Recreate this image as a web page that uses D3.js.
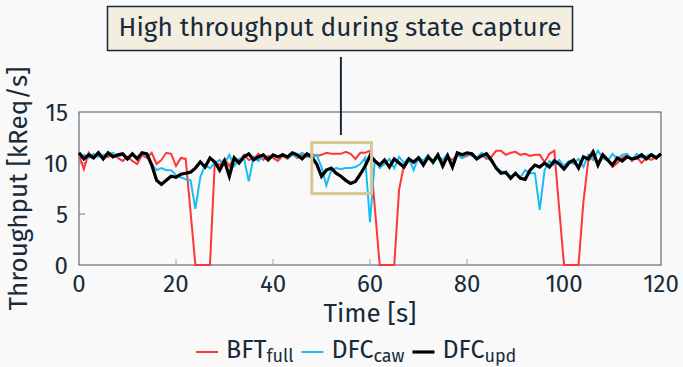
<!DOCTYPE html>
<html>
<head>
<meta charset="utf-8">
<script src="https://cdn.jsdelivr.net/npm/d3@7"></script>
<style>
  html, body { margin: 0; padding: 0; background: #f9f9f9; }
  svg { display: block; font-family: 'Fira Sans', 'Noto Sans', sans-serif; }
</style>
</head>
<body>
<svg id="chart"></svg>
<script>
// time in seconds, one sample per second
const times = d3.range(0, 121)

const bftFull = [
  10.8, 9.4, 11.0, 10.5, 10.9, 10.6, 10.6, 10.9, 10.5, 10.2,
  10.6, 10.2, 9.9, 10.8, 10.5, 11.0, 9.9, 10.3, 11.0, 10.9,
  9.7, 10.5, 10.4, 5.2, 0, 0, 0, 0, 10.1, 9.8,
  10.4, 9.7, 10.6, 10.1, 10.8, 10.3, 10.4, 10.9, 10.3, 10.7,
  10.5, 10.2, 10.7, 10.4, 10.9, 10.5, 10.8, 10.6, 10.9, 10.7,
  10.8, 11.0, 10.9, 10.9, 10.9, 11.1, 10.9, 10.4, 11.0, 11.0,
  11.2, 5.6, 0, 0, 0, 0, 7.4, 9.8, 10.2, 10.0,
  10.4, 10.1, 10.6, 10.2, 10.5, 10.0, 10.6, 10.3, 10.8, 10.5,
  10.7, 10.9, 10.5, 10.8, 10.4, 10.6, 11.2, 11.2, 10.8, 11.0,
  11.1, 10.8, 10.9, 10.7, 10.8, 10.8, 10.1, 10.9, 11.2, 5.6,
  0, 0, 0, 0, 6.2, 10.2, 10.7, 10.0, 10.6, 10.3,
  9.6, 10.0, 10.5, 10.8, 10.2, 10.6, 10.0, 10.5, 10.3, 10.6,
  10.8
]

const dfcCaw = [
  10.6, 10.8, 10.5, 10.9, 10.6, 10.8, 10.9, 11.0, 10.6, 10.8,
  10.5, 10.8, 10.6, 10.9, 10.7, 9.9, 9.3, 9.5, 9.3, 9.3,
  8.8, 8.6, 8.4, 8.3, 5.5, 8.6, 9.8, 9.5, 10.0, 10.3,
  9.9, 10.8, 9.7, 10.4, 10.5, 8.2, 10.6, 10.2, 10.8, 10.4,
  10.7, 10.5, 10.9, 10.5, 10.8, 10.6, 11.0, 10.7, 10.5, 10.8,
  9.6, 7.8, 9.3, 9.5, 9.4, 9.5, 9.5, 9.6, 9.9, 10.5,
  4.2, 10.3, 9.5, 9.9, 10.4, 9.5, 10.6, 10.0, 10.5, 9.3,
  10.6, 10.2, 10.8, 9.9, 10.7, 10.3, 10.9, 9.5, 10.8, 10.5,
  10.9, 10.7, 10.5, 11.0, 10.6, 10.2, 9.6, 9.2, 8.9, 8.7,
  8.9, 8.6, 9.3, 9.0, 9.0, 5.4, 9.3, 10.2, 9.8, 10.3,
  9.7, 10.2, 9.9, 10.4, 9.6, 10.8, 10.3, 11.2, 10.5, 10.2,
  10.9, 10.4, 10.8, 10.9, 10.3, 10.9, 10.5, 10.7, 10.9, 10.6,
  10.8
]

const dfcUpd = [
  11.0, 10.4, 10.8, 10.5, 11.0, 10.4, 11.0, 10.6, 10.8, 10.9,
  10.4, 10.9, 10.4, 11.0, 10.9, 9.8, 8.3, 7.9, 8.3, 8.7,
  8.6, 8.9, 9.0, 9.1, 9.5, 10.1, 9.6, 10.5, 10.1, 9.3,
  10.2, 8.7, 10.5, 10.0, 10.6, 10.9, 10.3, 10.6, 10.8, 10.3,
  10.8, 10.6, 10.8, 10.6, 11.0, 10.8, 10.4, 10.9, 10.6, 9.9,
  8.7, 9.3, 9.5, 9.0, 8.7, 8.3, 8.0, 8.2, 8.9, 9.7,
  10.7, 10.2, 9.8, 10.3, 9.6, 10.4, 10.0, 9.6, 10.4, 10.1,
  10.5, 9.8, 10.6, 10.1, 10.8, 9.7, 10.7, 9.6, 11.0, 10.8,
  11.0, 10.9, 10.4, 10.7, 10.9, 10.3, 9.5, 9.0, 9.1, 8.5,
  9.0, 8.5, 8.4, 9.3, 9.8, 9.6, 10.0, 9.6, 10.2, 9.9,
  9.4, 10.0, 10.3, 9.5, 10.6, 10.4, 11.1, 9.8, 10.8, 10.3,
  9.8, 10.5, 10.2, 10.6, 10.4, 10.5, 10.8, 10.4, 10.8, 10.5,
  10.9
]

const xTicks = [0, 20, 40, 60, 80, 100, 120]
const yTicks = [0, 5, 10, 15]

const series = [
  { name: 'BFT', sub: 'full', values: bftFull, color: '#ff3636', width: 2 },
  { name: 'DFC', sub: 'caw', values: dfcCaw, color: '#19bdf5', width: 2 },
  { name: 'DFC', sub: 'upd', values: dfcUpd, color: '#000000', width: 3.2 },
]

// highlighted window (time range, value range)
const highlight = { t0: 48, t1: 60.3, v0: 7, v1: 12 }
const calloutText = 'High throughput during state capture'
const calloutT = 54

const W = 683
const H = 367
const margin = { top: 112, right: 22, bottom: 102, left: 79 }
const textColor = '#172b3a'

const svg = d3.select('#chart').attr('width', W).attr('height', H)

const x = d3.scaleLinear().domain([0, 120]).range([margin.left, W - margin.right])
const y = d3.scaleLinear().domain([0, 15]).range([H - margin.bottom, margin.top])

// plot frame
svg
  .append('rect')
  .attr('x', x(0))
  .attr('y', y(15))
  .attr('width', x(120) - x(0))
  .attr('height', y(0) - y(15))
  .attr('fill', 'none')
  .attr('stroke', '#46525c')
  .attr('stroke-width', 1)

// inner ticks
svg
  .append('g')
  .selectAll('line')
  .data(xTicks.slice(1, -1))
  .join('line')
  .attr('x1', (d) => x(d))
  .attr('x2', (d) => x(d))
  .attr('y1', y(0))
  .attr('y2', y(0) - 6)
  .attr('stroke', '#a0a4a8')
  .attr('stroke-width', 1)

svg
  .append('g')
  .selectAll('line')
  .data(yTicks.slice(1, -1))
  .join('line')
  .attr('x1', x(0))
  .attr('x2', x(0) + 6)
  .attr('y1', (d) => y(d))
  .attr('y2', (d) => y(d))
  .attr('stroke', '#6b757d')
  .attr('stroke-width', 1)

// tick labels
svg
  .append('g')
  .selectAll('text')
  .data(xTicks)
  .join('text')
  .attr('x', (d) => x(d))
  .attr('y', y(0) + 27)
  .attr('text-anchor', 'middle')
  .attr('fill', textColor)
  .style('font-size', '24px')
  .text((d) => d)

svg
  .append('g')
  .selectAll('text')
  .data(yTicks)
  .join('text')
  .attr('x', x(0) - 11)
  .attr('y', (d) => y(d) + 8.5)
  .attr('text-anchor', 'end')
  .attr('fill', textColor)
  .style('font-size', '24px')
  .text((d) => d)

// axis titles
svg
  .append('text')
  .attr('x', (x(0) + x(120)) / 2)
  .attr('y', 322)
  .attr('text-anchor', 'middle')
  .attr('fill', textColor)
  .style('font-size', '26px')
  .text('Time [s]')

svg
  .append('text')
  .attr('transform', `translate(27,${(y(0) + y(15)) / 2}) rotate(-90)`)
  .attr('text-anchor', 'middle')
  .attr('fill', textColor)
  .style('font-size', '26px')
  .text('Throughput [kReq/s]')

// lines
const line = d3
  .line()
  .x((d, i) => x(times[i]))
  .y((d) => y(d))

svg
  .append('g')
  .selectAll('path')
  .data(series)
  .join('path')
  .attr('d', (d) => line(d.values))
  .attr('fill', 'none')
  .attr('stroke', (d) => d.color)
  .attr('stroke-width', (d) => d.width)
  .attr('stroke-linejoin', 'miter')

// highlight box
svg
  .append('rect')
  .attr('x', x(highlight.t0))
  .attr('y', y(highlight.v1))
  .attr('width', x(highlight.t1) - x(highlight.t0))
  .attr('height', y(highlight.v0) - y(highlight.v1))
  .attr('fill', 'none')
  .attr('stroke', '#d8c795')
  .attr('stroke-width', 3)

// callout
svg
  .append('line')
  .attr('x1', x(calloutT))
  .attr('x2', x(calloutT))
  .attr('y1', 57)
  .attr('y2', 135)
  .attr('stroke', textColor)
  .attr('stroke-width', 2)

const callout = svg.append('g')
callout
  .append('rect')
  .attr('x', 107.5)
  .attr('y', 6.5)
  .attr('width', 465)
  .attr('height', 44)
  .attr('fill', '#f4eee1')
  .attr('stroke', textColor)
  .attr('stroke-width', 1.5)

const calloutLabel = callout
  .append('text')
  .attr('x', 340)
  .attr('y', 36)
  .attr('text-anchor', 'middle')
  .attr('fill', textColor)
  .style('font-size', '24px')
  .text(calloutText)
// fit text width to the box like the original
const tw = calloutLabel.node().getComputedTextLength()
calloutLabel.style('font-size', `${(24 * 443) / tw}px`)

// legend
const legend = svg.append('g').attr('transform', 'translate(196,358)')
let lx = 0
series.forEach((s) => {
  legend
    .append('line')
    .attr('x1', lx)
    .attr('x2', lx + 22)
    .attr('y1', -6)
    .attr('y2', -6)
    .attr('stroke', s.color)
    .attr('stroke-width', s.width)
  const t = legend
    .append('text')
    .attr('x', lx + 30)
    .attr('y', 0)
    .attr('fill', textColor)
    .style('font-size', '25px')
  t.append('tspan').text(s.name)
  t.append('tspan').attr('dy', 4).style('font-size', '18px').text(s.sub)
  lx += 30 + t.node().getComputedTextLength() + 8
})
</script>
</body>
</html>
